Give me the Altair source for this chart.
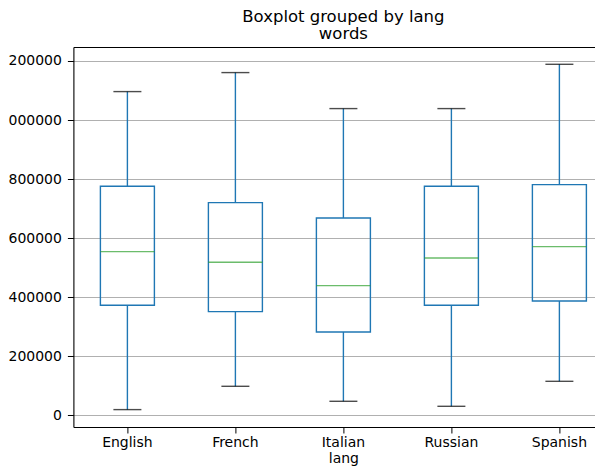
import altair as alt
import pandas as pd

langs = ["English", "French", "Italian", "Russian", "Spanish"]
whisker_low = [18600, 97600, 46800, 29800, 114500]
q1 = [372100, 350700, 281600, 372100, 386700]
median = [554100, 517800, 438900, 532400, 571000]
q3 = [775400, 720100, 668000, 775400, 781100]
whisker_high = [1096300, 1160700, 1038700, 1038700, 1188800]
y_ticks = [0, 200000, 400000, 600000, 800000, 1000000, 1200000]

df = pd.DataFrame({
    "lang": langs, "low": whisker_low, "q1": q1, "med": median,
    "q3": q3, "high": whisker_high,
})

FONT = "DejaVu Sans"
BLUE = "#1f77b4"
GREEN = "#2ca02c"

xscale = alt.Scale(domain=langs, paddingInner=0, paddingOuter=0)
x_main = alt.X("lang:N", scale=xscale,
               axis=alt.Axis(title="lang", labelAngle=0, bandPosition=0.5,
                             tickSize=6, labelPadding=3, titlePadding=2))
x_none = alt.X("lang:N", scale=xscale, axis=None)
x_top = alt.X("lang:N", scale=xscale,
              axis=alt.Axis(orient="top", title=None, labels=False,
                            ticks=False, grid=False, domain=True))
yscale = alt.Scale(domain=[-40330, 1247400], nice=False, zero=False)
yaxis = alt.Axis(title=None, values=y_ticks, format="d", tickSize=6,
                 labelPadding=6)

base = alt.Chart(df)

lower = base.mark_rule(color=BLUE, strokeWidth=1.4).encode(
    x=x_main, y=alt.Y("low:Q", scale=yscale, axis=yaxis), y2="q1:Q")
upper = base.mark_rule(color=BLUE, strokeWidth=1.4).encode(
    x=x_none, y=alt.Y("q3:Q", scale=yscale, axis=yaxis), y2="high:Q")
box = base.mark_bar(filled=False, stroke=BLUE, strokeWidth=1.4, size=54,
                    fillOpacity=0).encode(
    x=x_none, y=alt.Y("q1:Q", scale=yscale, axis=yaxis), y2="q3:Q")
med = base.mark_tick(color=GREEN, thickness=1.4, size=54, orient="horizontal").encode(
    x=x_none, y=alt.Y("med:Q", scale=yscale, axis=yaxis))
cap_low = base.mark_tick(color="black", thickness=1.4, size=28, orient="horizontal").encode(
    x=x_none, y=alt.Y("low:Q", scale=yscale, axis=yaxis))
cap_high = base.mark_tick(color="black", thickness=1.4, size=28, orient="horizontal").encode(
    x=x_top, y=alt.Y("high:Q", scale=yscale, axis=yaxis))

chart = alt.layer(lower, upper, box, med, cap_low, cap_high).resolve_axis(
    x="independent"
).properties(
    width=540, height=380,
    padding={"left": -9.6, "right": -18, "top": 0, "bottom": 0},
    title=alt.TitleParams(
        text="Boxplot grouped by lang", subtitle="words",
        font=FONT, subtitleFont=FONT, fontSize=16.5, subtitleFontSize=16.5,
        fontWeight="normal", color="black", subtitleColor="black",
        anchor="middle", offset=4.2, subtitlePadding=1.2),
).configure_view(
    stroke=None
).configure_axis(
    labelFont=FONT, titleFont=FONT, labelFontSize=14, titleFontSize=14,
    labelColor="black", titleColor="black", titleFontWeight="normal",
    gridColor="#b0b0b0", gridWidth=1.1, tickColor="black", tickWidth=1,
    domain=True, domainColor="black", domainWidth=1.1,
)

chart.save("out.html", embed_options={"renderer": "svg", "actions": False})
